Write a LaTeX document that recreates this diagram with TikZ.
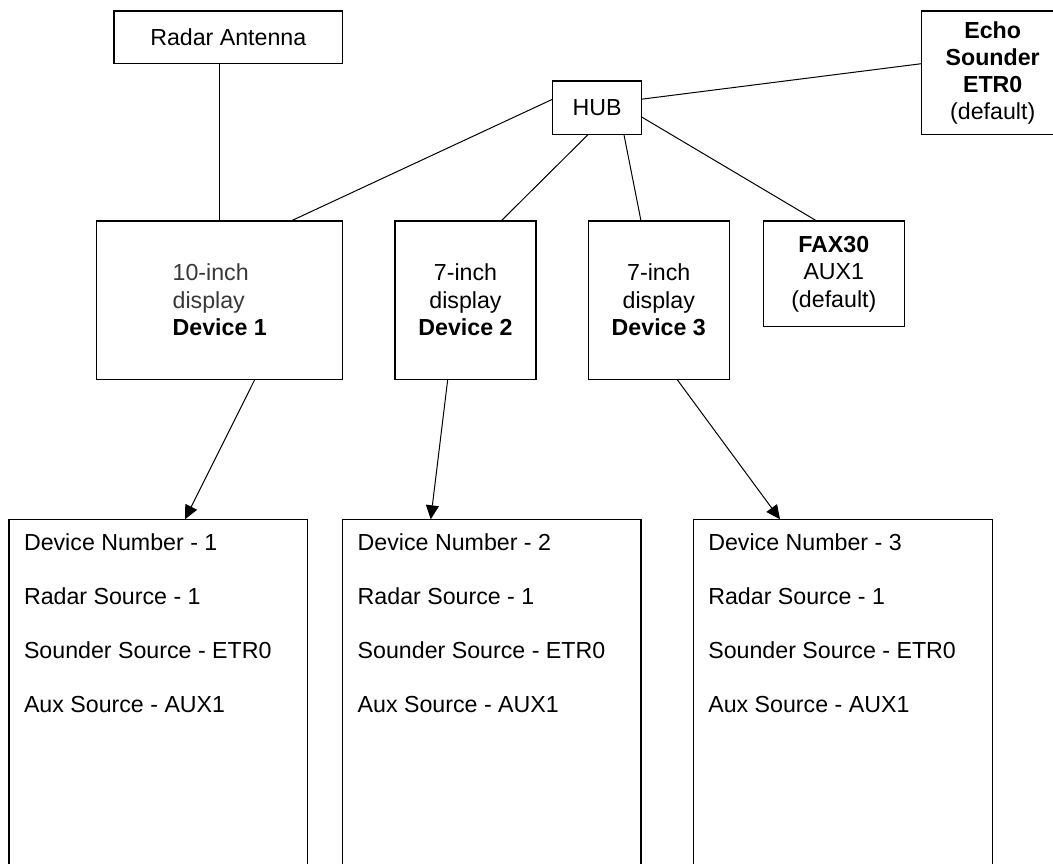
\documentclass[tikz,border=0pt]{standalone}
\usepackage{fontspec}
\setmainfont{Liberation Sans}
\usetikzlibrary{calc,arrows.meta}
\tikzset{
  box/.style={draw, line width=1.2pt, inner sep=0pt, outer sep=0pt, align=center,
    font=\fontsize{23.2}{27.5}\selectfont},
  listbox/.style={draw, line width=1.2pt, inner sep=0pt, outer sep=0pt, anchor=north west},
  listtext/.style={inner sep=0pt, outer sep=0pt, anchor=north west, align=left,
    font=\fontsize{23.2}{54}\selectfont},
  link/.style={line width=1pt},
  arr/.style={line width=1pt, -{Triangle[length=14pt,width=13pt]}}
}
\begin{document}
\begin{tikzpicture}[x=1pt,y=-1pt]
\useasboundingbox (0,0) rectangle (1053,863);
\clip (0,0) rectangle (1053,863);

% top row
\node[box, minimum width=228.7pt, minimum height=52.7pt] (radar) at (228.3,37.3) {Radar Antenna};
\node[box, minimum width=89pt, minimum height=53.3pt] (hub) at (597.2,107.7) {HUB};
\node[box, minimum width=142.7pt, minimum height=123.3pt, font=\fontsize{23.2}{27}\selectfont] (echo) at (992.7,72.7)
  {\textbf{Echo}\\\textbf{Sounder}\\\textbf{ETR0}\\(default)};

% display row
\node[box, minimum width=246pt, minimum height=158.3pt, align=left] (dev1) at (219.7,300.2)
  {\textcolor{black!78}{10-inch}\\\textcolor{black!78}{display}\\\textbf{Device 1}};
\node[box, minimum width=141pt, minimum height=158.3pt] (dev2) at (465.5,300.2)
  {7-inch\\display\\\textbf{Device 2}};
\node[box, minimum width=141pt, minimum height=158.3pt] (dev3) at (658.8,300.2)
  {7-inch\\display\\\textbf{Device 3}};
\node[box, minimum width=141pt, minimum height=105.7pt] (fax) at (833.8,273.8)
  {\textbf{FAX30}\\AUX1\\(default)};

% bottom boxes (cut off by the page edge)
\node[listbox, minimum width=298.3pt, minimum height=420pt] (b1) at (9,519.3) {};
\node[listbox, minimum width=298.3pt, minimum height=420pt] (b2) at (342.7,519.3) {};
\node[listbox, minimum width=299pt, minimum height=420pt] (b3) at (693.3,519.3) {};
\node[listtext] (t1) at ($(b1.north west)+(15,14)$)
  {Device Number - 1\\Radar Source - 1\\Sounder Source - ETR0\\Aux Source - AUX1};
\node[listtext] (t2) at ($(b2.north west)+(15,14)$)
  {Device Number - 2\\Radar Source - 1\\Sounder Source - ETR0\\Aux Source - AUX1};
\node[listtext] (t3) at ($(b3.north west)+(15,14)$)
  {Device Number - 3\\Radar Source - 1\\Sounder Source - ETR0\\Aux Source - AUX1};

% connectors
\draw[link] (dev1.north) -- (dev1.north |- radar.south);
\draw[link] ($(hub.north west)!0.34!(hub.south west)$) -- ($(dev1.north west)!0.789!(dev1.north east)$);
\draw[link] ($(hub.south west)!0.4!(hub.south east)$) -- ($(dev2.north west)!0.752!(dev2.north east)$);
\draw[link] ($(hub.south west)!0.8!(hub.south east)$) -- ($(dev3.north west)!0.374!(dev3.north east)$);
\draw[link] ($(hub.north east)!0.675!(hub.south east)$) -- ($(fax.north west)!0.379!(fax.north east)$);
\draw[link] ($(hub.north east)!0.34!(hub.south east)$) -- ($(echo.north west)!0.427!(echo.south west)$);

\draw[arr] ($(dev1.south west)!0.643!(dev1.south east)$) -- ($(b1.north west)!0.59!(b1.north east)$);
\draw[arr] ($(dev2.south west)!0.374!(dev2.south east)$) -- ($(b2.north west)!0.295!(b2.north east)$);
\draw[arr] ($(dev3.south west)!0.629!(dev3.south east)$) -- ($(b3.north west)!0.29!(b3.north east)$);
\end{tikzpicture}
\end{document}
